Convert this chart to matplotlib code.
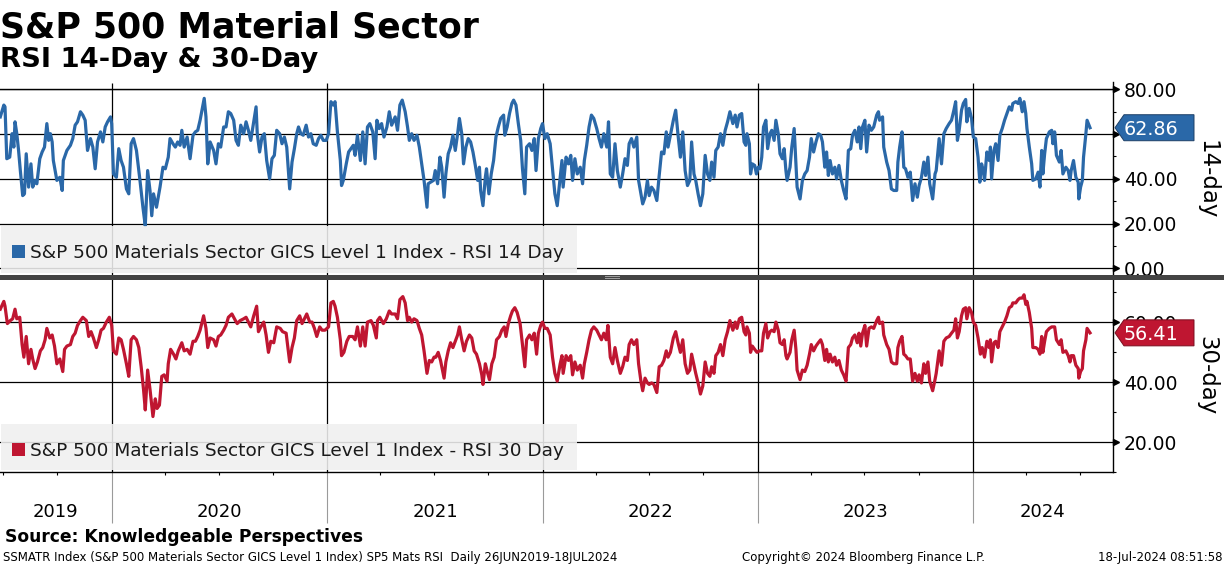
import matplotlib
matplotlib.use("Agg")
import matplotlib.pyplot as plt
import matplotlib.dates as mdates
import numpy as np
import pandas as pd
from matplotlib.patches import Polygon, Rectangle
from matplotlib.lines import Line2D
from matplotlib.ticker import FuncFormatter
from matplotlib.transforms import blended_transform_factory

# ---- data (days counted from 26 Jun 2019) ----
start = pd.Timestamp("2019-06-26")
x_right = pd.Timestamp("2024-08-26")

days14 = [0, 6, 8, 11, 16, 20, 23, 25, 28, 31, 34, 38, 41, 44, 48, 52, 55, 59, 62, 67,
          71, 75, 79, 82, 85, 88, 90, 96, 101, 105, 107, 113, 119, 123, 127, 131, 136, 140, 144, 148,
          153, 157, 161, 165, 170, 174, 178, 182, 187, 189, 192, 197, 201, 205, 209, 214, 218, 222, 226, 231,
          235, 237, 242, 246, 250, 254, 257, 260, 265, 269, 271, 276, 280, 285, 288, 293, 297, 301, 305, 308,
          312, 317, 322, 327, 331, 335, 339, 346, 349, 352, 356, 362, 366, 370, 374, 379, 383, 387, 391, 396,
          400, 404, 408, 413, 417, 421, 425, 430, 434, 436, 440, 444, 448, 452, 457, 461, 465, 469, 474, 478,
          482, 486, 491, 495, 499, 503, 506, 510, 514, 519, 523, 527, 531, 536, 540, 544, 548, 553, 557, 561,
          565, 568, 572, 577, 579, 582, 587, 591, 595, 599, 602, 606, 611, 615, 619, 623, 627, 632, 636, 639,
          643, 647, 651, 656, 660, 664, 670, 674, 678,
          682, 687, 691, 694, 698, 702, 707, 711, 715, 719, 724, 726, 730, 735, 738, 742, 746, 749, 753, 756,
          760, 764, 768, 772, 776, 779, 783, 786, 790, 794, 798, 802, 806, 810, 813, 815, 819, 823, 825, 829,
          833, 837, 841, 845, 849, 854, 856, 860, 864, 868, 871, 875, 879, 883, 886, 890, 893, 898, 902, 906,
          909, 913, 917, 920, 924, 928, 933, 937, 941, 945, 950, 953, 955, 960, 964, 968, 971, 975, 979, 984,
          988, 991, 995, 999, 1003, 1007, 1012, 1016, 1020, 1024, 1029, 1032, 1035, 1039, 1043, 1047, 1052, 1056, 1060, 1064,
          1067, 1071, 1075, 1080, 1083, 1087, 1090, 1094, 1098, 1101, 1105, 1109, 1114, 1118, 1122, 1126, 1130, 1133, 1137, 1142,
          1146, 1150, 1154, 1158, 1162, 1166, 1170, 1173, 1177, 1180, 1184, 1188, 1192, 1196, 1200, 1204, 1207, 1211, 1214, 1218,
          1222, 1226, 1230, 1234, 1238, 1243, 1247, 1250, 1254,
          1258, 1262, 1265, 1267, 1271, 1273, 1276, 1280, 1283, 1286, 1289, 1292, 1295, 1299, 1302, 1306, 1309, 1313, 1316, 1320,
          1323, 1327, 1330, 1333, 1335, 1340, 1343, 1347, 1350, 1352, 1357, 1361, 1365, 1369, 1373, 1376, 1380, 1384, 1388, 1392,
          1395, 1399, 1402, 1405, 1408, 1412, 1416, 1419, 1423, 1427, 1431, 1435, 1439, 1443, 1446, 1450, 1454, 1457, 1460, 1463,
          1467, 1470, 1474, 1478, 1482, 1487, 1490, 1492, 1497, 1499, 1504, 1508, 1512, 1516, 1521, 1523, 1526, 1530, 1533, 1536,
          1540, 1544, 1548, 1552, 1556, 1559, 1563, 1567, 1570, 1574, 1577, 1582, 1586, 1588, 1593, 1597, 1601, 1605, 1610, 1614,
          1618, 1621, 1624, 1627, 1631, 1634, 1638, 1640, 1644, 1648, 1651, 1655, 1659, 1662, 1665, 1668, 1670, 1674, 1678, 1680,
          1682, 1686, 1689, 1693, 1696, 1700, 1704, 1708, 1712, 1716, 1718, 1723, 1727, 1730, 1734, 1737, 1740, 1742, 1746, 1750,
          1752, 1757, 1761, 1764, 1767, 1769, 1772, 1775, 1780, 1784, 1786, 1789, 1792, 1797, 1800, 1803, 1808, 1812, 1815, 1817,
          1821, 1825, 1829, 1830, 1833, 1836, 1838, 1842, 1844, 1849]

rsi14 = [67.7, 73.0, 72.2, 49.0, 49.7, 60.2, 54.2, 65.5, 60.2, 52.7, 43.7, 32.5, 33.3, 51.2, 36.3, 46.7, 36.3, 39.3, 37.8, 49.0,
         52.0, 54.2, 64.7, 57.2, 60.2, 56.5, 48.2, 39.3, 40.7, 34.8, 48.2, 52.7, 55.0, 58.0, 64.0, 65.5, 70.0, 68.5, 66.2, 52.7,
         58.0, 54.2, 44.5, 56.5, 61.0, 56.5, 63.2, 65.5, 67.7, 64.7, 42.2, 40.7, 53.5, 48.2, 45.2, 35.5, 33.3, 55.7, 58.0, 52.7,
         43.7, 39.3, 27.3, 19.0, 43.7, 34.8, 23.5, 33.3, 27.3, 33.3, 36.3, 45.2, 44.5, 49.7, 58.0, 55.7, 54.2, 56.5, 55.0, 61.7,
         54.2, 58.7, 49.0, 59.5, 61.0, 61.7, 66.2, 76.0, 67.7, 46.7, 56.5, 52.7, 46.7, 55.7, 54.2, 63.2, 63.2, 70.0, 69.2, 66.2,
         57.2, 55.0, 64.0, 60.2, 65.5, 61.7, 57.2, 65.5, 72.2, 60.2, 52.0, 58.7, 60.2, 48.2, 40.0, 49.0, 50.5, 61.7, 60.2, 55.7,
         58.7, 54.2, 35.5, 47.5, 53.5, 60.2, 63.2, 60.2, 59.5, 64.0, 58.7, 60.2, 55.7, 55.0, 58.0, 59.5, 57.2, 57.2, 60.2, 74.5,
         73.0, 74.5, 61.0, 48.2, 37.0, 39.3, 46.7, 52.0, 53.5, 55.0, 50.5, 59.5, 48.2, 61.0, 46.7, 63.2, 64.7, 61.0, 49.0, 66.2,
         62.5, 64.7, 58.7, 63.2, 70.0, 64.0, 67.7, 61.7, 73.0,
         75.2, 70.0, 63.2, 57.2, 60.2, 57.2, 59.5, 54.2, 46.7, 39.3, 27.3, 37.8, 38.5, 39.3, 43.7, 37.8, 49.7, 45.2, 31.8, 42.2,
         51.2, 54.2, 59.5, 52.7, 60.2, 67.0, 60.2, 46.7, 54.2, 58.0, 56.5, 52.0, 46.0, 39.3, 45.2, 34.8, 28.0, 40.7, 44.5, 33.3,
         42.2, 48.2, 58.7, 63.2, 67.0, 68.5, 59.5, 63.2, 69.2, 73.7, 75.2, 73.0, 64.7, 57.2, 44.5, 33.3, 54.2, 55.7, 52.7, 58.0,
         43.7, 58.0, 62.5, 64.7, 58.0, 60.2, 55.7, 44.5, 33.3, 28.0, 40.7, 48.2, 36.3, 49.7, 46.7, 50.5, 39.3, 49.0, 42.2, 45.2,
         37.8, 48.2, 55.0, 63.2, 68.5, 67.0, 62.5, 58.0, 54.2, 60.2, 54.2, 65.5, 42.2, 40.7, 55.7, 43.7, 36.3, 42.2, 49.0, 46.0,
         55.7, 58.0, 54.2, 58.7, 39.3, 33.3, 28.8, 31.8, 39.3, 32.5, 36.3, 34.8, 30.3, 41.5, 52.0, 51.2, 61.0, 54.2, 59.5, 66.2,
         70.7, 59.5, 49.7, 61.0, 43.7, 37.0, 39.3, 56.5, 42.2, 39.3, 33.3, 28.0, 33.3, 50.5, 42.2, 39.3, 47.5, 40.7, 52.7, 54.2,
         60.2, 55.0, 61.7, 65.5, 70.0, 64.7, 68.5, 63.2, 68.5,
         69.2, 56.5, 55.0, 60.2, 55.7, 42.2, 46.7, 46.0, 42.2, 45.2, 44.5, 49.7, 63.2, 66.2, 53.5, 60.2, 61.7, 57.2, 66.2, 60.2,
         51.2, 49.0, 53.5, 43.7, 39.3, 45.2, 54.2, 62.5, 46.7, 36.3, 31.0, 39.3, 42.2, 43.7, 49.7, 58.0, 52.0, 56.5, 60.2, 59.5,
         56.5, 45.2, 52.0, 41.5, 48.2, 42.2, 45.2, 40.0, 46.0, 39.3, 34.8, 31.0, 52.7, 53.5, 59.5, 61.7, 56.5, 63.2, 53.5, 63.2,
         66.2, 52.0, 64.0, 61.7, 63.2, 68.5, 70.0, 66.2, 67.7, 54.2, 47.5, 43.7, 35.5, 34.8, 34.8, 47.5, 54.2, 61.0, 45.2, 44.5,
         40.7, 43.0, 30.3, 37.8, 31.8, 37.0, 40.7, 47.5, 41.5, 49.7, 37.8, 31.0, 42.2, 43.7, 58.0, 46.7, 60.2, 62.5, 64.7, 66.2,
         70.7, 74.5, 57.2, 61.7, 70.7, 73.7, 75.5, 65.5, 71.5, 67.0, 58.7, 58.0, 49.7, 38.5, 46.7, 43.7, 39.3, 52.0, 48.2, 54.2,
         40.0, 52.7, 55.7, 48.2, 59.5, 62.5, 66.2, 69.2, 72.2, 70.7, 73.7, 74.5, 73.7, 76.0, 70.0, 74.5, 69.2, 62.5, 54.2, 46.7,
         39.3, 40.0, 43.0, 36.3, 52.7, 42.2, 51.2, 58.0, 61.0, 61.7, 55.7, 61.0, 50.5, 47.5, 52.7, 42.2, 45.2, 43.7, 39.3, 43.7,
         48.2, 40.7, 38.5, 31.0, 36.3, 39.3, 49.7, 60.2, 66.2, 62.86]

days30 = [0, 6, 8, 12, 17, 21, 25, 28, 33, 37, 40, 44, 48, 52, 55, 59, 63, 68, 72, 76,
          79, 84, 88, 92, 96, 101, 106, 109, 113, 119, 123, 127, 131, 136, 140, 146, 150, 154, 158, 163,
          167, 171, 175, 180, 185, 189, 192, 197, 201, 205, 209, 214, 218, 222, 226, 231, 235, 239, 243, 246,
          250, 254, 259, 263, 266, 270, 274, 278, 283, 285, 289, 294, 298, 302, 308, 312, 317, 322, 327, 331,
          335, 339, 345, 349, 352, 356, 362, 366, 370, 374, 379, 383, 387, 393, 399, 402, 407, 413, 417, 421,
          425, 430, 435, 438, 442, 447, 451, 455, 459, 464, 469, 475, 479, 485, 491, 495, 499, 503, 508, 512,
          516, 520, 525, 529, 533, 537, 542, 546, 551, 557, 561, 565, 568, 572, 577, 579, 583, 588, 592, 598,
          602, 606, 611, 615, 619, 623, 629, 633, 638, 640, 644, 650, 655, 660, 664, 670, 674, 678,
          683, 687, 691, 694, 698, 702, 707, 711, 715, 719, 724, 728, 732, 736, 739, 743, 747, 753, 756, 760,
          764, 768, 772, 776, 779, 783, 787, 791, 796, 800, 804, 808, 813, 817, 819, 823, 827, 830, 834, 838,
          842, 847, 851, 855, 858, 862, 866, 869, 873, 877, 882, 886, 890, 893, 898, 902, 906, 910, 913, 917,
          920, 924, 928, 933, 937, 941, 945, 950, 953, 955, 960, 964, 968, 971, 975, 979, 984, 988, 991, 995,
          999, 1003, 1007, 1012, 1016, 1020, 1024, 1028, 1031, 1035, 1039, 1043, 1047, 1052, 1056, 1060, 1064, 1067, 1071, 1075,
          1080, 1083, 1087, 1090, 1094, 1098, 1101, 1105, 1109, 1114, 1118, 1122, 1126, 1130, 1133, 1137, 1142, 1146, 1150, 1154,
          1158, 1162, 1166, 1170, 1173, 1177, 1180, 1184, 1188, 1192, 1196, 1200, 1204, 1207, 1211, 1214, 1218, 1222, 1226, 1230,
          1234, 1238, 1243, 1247, 1250, 1254,
          1258, 1262, 1265, 1267, 1271, 1273, 1276, 1280, 1284, 1288, 1292, 1295, 1299, 1302, 1306, 1309, 1313, 1316, 1320, 1323,
          1327, 1330, 1333, 1335, 1340, 1343, 1347, 1350, 1352, 1357, 1361, 1365, 1369, 1373, 1376, 1380, 1384, 1388, 1392, 1395,
          1399, 1402, 1405, 1408, 1412, 1416, 1419, 1423, 1427, 1431, 1435, 1439, 1443, 1446, 1450, 1454, 1457, 1460, 1463, 1467,
          1470, 1474, 1478, 1482, 1487, 1490, 1492, 1497, 1499, 1504, 1508, 1512, 1516, 1521, 1523, 1526, 1530, 1533, 1536, 1540,
          1544, 1548, 1552, 1556, 1559, 1563, 1567, 1570, 1574, 1577, 1582, 1586, 1588, 1593, 1597, 1601, 1605, 1610, 1614, 1618,
          1621, 1624, 1627, 1631, 1634, 1638, 1640, 1644, 1648, 1651, 1655, 1659, 1663, 1666, 1670, 1674, 1678, 1680, 1682, 1686,
          1689, 1693, 1696, 1700, 1704, 1708, 1712, 1716, 1718, 1723, 1727, 1730, 1734, 1737, 1740, 1742, 1746, 1750, 1752, 1757,
          1761, 1764, 1767, 1769, 1772, 1775, 1780, 1784, 1786, 1789, 1792, 1797, 1800, 1803, 1808, 1812, 1815, 1817, 1821, 1825,
          1829, 1830, 1833, 1836, 1838, 1842, 1844, 1849]

rsi30 = [64.3, 66.9, 65.3, 59.5, 60.5, 61.1, 64.3, 61.1, 61.6, 52.5, 48.3, 55.2, 46.1, 50.9, 47.7, 44.5, 46.7, 50.4, 51.5, 54.1,
         57.9, 54.7, 55.7, 52.0, 46.1, 47.7, 43.5, 50.9, 52.0, 52.5, 55.2, 56.3, 58.9, 60.5, 61.6, 60.5, 55.2, 56.8, 54.7, 51.5,
         54.1, 57.3, 57.9, 60.0, 61.6, 58.9, 50.4, 49.3, 54.7, 54.1, 50.9, 46.1, 41.9, 54.1, 55.2, 54.1, 51.5, 45.1, 37.6, 30.7,
         44.0, 37.6, 28.5, 34.4, 31.2, 32.3, 41.9, 42.4, 40.3, 46.1, 50.9, 49.3, 47.7, 50.4, 53.1, 50.4, 50.9, 49.3, 53.6, 53.6,
         55.2, 57.3, 62.1, 57.9, 51.5, 54.7, 54.1, 52.0, 55.2, 55.7, 57.3, 58.9, 61.6, 62.7, 60.5, 59.5, 60.5, 61.1, 61.6, 60.0,
         58.4, 62.1, 65.3, 56.8, 58.4, 60.0, 55.7, 49.9, 53.6, 53.1, 58.4, 57.9, 56.8, 56.3, 46.7, 51.5, 54.7, 60.5, 62.1, 59.5,
         61.1, 62.7, 60.0, 60.0, 57.9, 55.2, 58.4, 57.3, 57.3, 58.4, 66.4, 66.9, 65.3, 61.6, 54.1, 48.8, 49.9, 53.6, 55.2, 55.2,
         54.1, 58.4, 52.0, 58.4, 52.0, 60.0, 60.5, 58.9, 54.7, 60.5, 61.6, 59.5, 61.1, 63.7, 62.7, 62.7, 61.1, 67.5,
         68.5, 66.4, 60.5, 61.6, 60.0, 61.1, 60.5, 57.9, 55.7, 50.4, 42.9, 47.2, 46.7, 48.3, 48.3, 49.9, 47.2, 41.3, 46.7, 50.4,
         53.1, 51.5, 53.6, 55.7, 58.4, 54.1, 50.4, 53.6, 55.7, 54.7, 50.4, 49.3, 46.1, 42.4, 39.2, 46.1, 42.9, 40.8, 46.1, 48.3,
         54.1, 55.2, 57.3, 58.4, 55.2, 59.5, 62.1, 63.7, 64.8, 63.2, 59.5, 52.5, 45.1, 54.1, 55.7, 54.1, 56.3, 49.3, 56.3, 58.9,
         60.0, 57.9, 57.9, 55.7, 48.3, 42.9, 40.3, 46.1, 48.8, 42.9, 48.8, 47.2, 48.8, 42.4, 46.7, 44.0, 45.6, 41.3, 46.1, 49.9,
         54.1, 57.3, 58.4, 57.3, 55.7, 54.1, 56.3, 54.1, 58.9, 48.3, 46.1, 51.5, 47.2, 42.9, 45.1, 48.3, 47.2, 52.5, 54.1, 52.5,
         54.1, 46.1, 40.3, 37.1, 41.3, 39.7, 39.2, 39.7, 39.2, 36.5, 45.1, 45.6, 47.2, 50.4, 48.3, 49.9, 54.7, 56.8, 53.1, 49.9,
         54.1, 46.1, 42.9, 44.0, 49.3, 45.6, 42.9, 39.7, 36.0, 38.7, 46.7, 42.9, 41.9, 45.1, 42.9, 48.8, 49.9, 52.5, 48.8, 54.1,
         56.8, 60.5, 57.3, 60.0, 57.9, 61.1,
         61.6, 56.8, 55.7, 58.4, 56.3, 49.9, 52.0, 50.9, 49.9, 50.4, 50.4, 56.3, 59.5, 54.7, 56.8, 57.3, 56.8, 60.0, 57.3, 53.1,
         52.5, 54.1, 48.8, 47.7, 49.9, 54.1, 57.3, 50.9, 44.0, 40.8, 44.0, 43.5, 45.6, 49.3, 52.5, 50.4, 52.0, 53.1, 54.1, 52.5,
         47.2, 50.9, 46.7, 49.3, 46.7, 48.3, 45.6, 47.2, 44.0, 42.4, 40.3, 51.5, 52.5, 54.7, 55.7, 53.1, 56.3, 52.0, 56.3, 58.9,
         52.0, 57.9, 58.4, 57.9, 60.5, 61.6, 59.5, 60.0, 55.7, 52.5, 50.9, 46.7, 46.1, 46.1, 51.5, 53.6, 55.2, 49.3, 48.8, 47.7,
         47.7, 40.3, 42.9, 40.3, 42.4, 39.7, 46.1, 42.9, 46.7, 40.3, 37.1, 40.8, 42.9, 50.4, 45.6, 53.6, 54.7, 55.2, 56.3, 57.3,
         61.1, 54.7, 56.8, 62.1, 64.3, 64.8, 61.1, 64.8, 63.2, 60.0, 58.9, 54.7, 49.3, 51.5, 48.3, 53.6, 51.5, 54.1, 46.7, 53.1,
         53.6, 51.5, 56.8, 58.4, 60.0, 62.1, 64.8, 65.3, 66.4, 66.4, 67.5, 68.0, 68.0, 69.1, 65.9, 66.9, 63.2, 57.9, 51.5, 51.5,
         50.9, 49.3, 55.2, 49.9, 53.6, 56.8, 57.9, 58.4, 58.4, 58.4, 54.1, 52.5, 54.1, 49.9, 50.4, 48.8, 46.7, 48.8, 48.8, 45.6,
         44.5, 41.3, 43.5, 44.5, 50.4, 54.1, 57.9, 56.41]

years = [2019, 2020, 2021, 2022, 2023, 2024]
ticks14 = [0, 20, 40, 60, 80]
ticks30 = [20, 40, 60]

title = "S&P 500 Material Sector"
subtitle = "RSI 14-Day & 30-Day"
label14 = "S&P 500 Materials Sector GICS Level 1 Index - RSI 14 Day"
label30 = "S&P 500 Materials Sector GICS Level 1 Index - RSI 30 Day"
source = "Source: Knowledgeable Perspectives"
foot_left = "SSMATR Index (S&P 500 Materials Sector GICS Level 1 Index) SP5 Mats RSI  Daily 26JUN2019-18JUL2024"
foot_mid = "Copyright\u00a9 2024 Bloomberg Finance L.P."
foot_right = "18-Jul-2024 08:51:58"

BLUE = "#2a68a8"
RED = "#bf1631"

W, H = 1224, 566


def fx(px):
    return px / W


def fy(py):
    # py measured from the top of the picture
    return 1 - py / H


fig = plt.figure(figsize=(W / 100, H / 100), dpi=100)
fig.patch.set_facecolor("white")

ax1 = fig.add_axes([0, fy(275), fx(1113), (275 - 88.5) / H])
ax2 = fig.add_axes([0, fy(472), fx(1113), (472 - 279.5) / H])

dates14 = (start + pd.to_timedelta(days14, unit="D")).to_pydatetime()
dates30 = (start + pd.to_timedelta(days30, unit="D")).to_pydatetime()
ax1.plot(dates14, rsi14, color=BLUE, lw=2.3, solid_joinstyle="round", zorder=3)
ax2.plot(dates30, rsi30, color=RED, lw=2.3, solid_joinstyle="round", zorder=3)

ax1.set_ylim(-3.0, 80.4)
ax2.set_ylim(12.4, 74.2)

year_starts = [pd.Timestamp(f"{y}-01-01").to_pydatetime() for y in years[1:]]
quarters = [d.to_pydatetime() for d in pd.date_range("2019-07-01", "2024-07-01", freq="QS")
            if d.month != 1]

for ax, ticks in ((ax1, ticks14), (ax2, ticks30)):
    ax.set_xlim(start - pd.Timedelta(hours=12), x_right)
    for s in ax.spines.values():
        s.set_visible(False)
    ax.yaxis.tick_right()
    ax.set_yticks(ticks)
    ax.set_yticks(np.arange(10, 80, 20), minor=True)
    ax.tick_params(axis="y", which="major", length=0, pad=8, labelsize=13.5)
    ax.tick_params(axis="y", which="minor", length=2.5, width=0.8, direction="out")
    ax.set_xticks(year_starts)
    ax.grid(True, which="major", color="black", lw=0.9)
    # arrow heads at the major ticks
    ax.plot(np.full(len(ticks), 1.003), ticks, ls="none", marker=">", ms=5, color="black",
            transform=ax.get_yaxis_transform(), clip_on=False, zorder=5)

# the 60.00 label of the upper panel sits fully under the last-value tag
ax1.yaxis.set_major_formatter(FuncFormatter(lambda v, p: "" if v == 60 else f"{v:.2f}"))
ax2.yaxis.set_major_formatter(FuncFormatter(lambda v, p: f"{v:.2f}"))

ax1.spines["top"].set_visible(True)
ax1.spines["top"].set_linewidth(1.0)
ax1.xaxis.set_ticks_position("top")
ax1.tick_params(axis="x", direction="out", length=4.5, width=0.9, labeltop=False, labelbottom=False)

ax2.spines["bottom"].set_visible(True)
ax2.spines["bottom"].set_linewidth(1.0)
ax2.xaxis.set_ticks_position("bottom")
ax2.set_xticks(quarters, minor=True)
ax2.tick_params(axis="x", which="major", direction="out", length=37, width=0.8,
                color="#9a9a9a", labelbottom=False)
ax2.tick_params(axis="x", which="minor", direction="out", length=2.5, width=0.8, color="black")

# year labels centred on the visible part of each year
lo_lim, hi_lim = ax2.get_xlim()
ytrans = blended_transform_factory(ax2.transData, fig.transFigure)
for y in years:
    lo = max(mdates.date2num(pd.Timestamp(f"{y}-01-01")), lo_lim)
    hi = min(mdates.date2num(pd.Timestamp(f"{y + 1}-01-01")), hi_lim)
    ax2.text((lo + hi) / 2, fy(512), str(y), transform=ytrans, ha="center", va="center",
             fontsize=13, clip_on=False)

# right axis line, running through both panels
fig.add_artist(Line2D([fx(1113), fx(1113)], [fy(82), fy(472)], color="black", lw=1.0))

# legend boxes
for top, bot, col, lab in ((226, 273, BLUE, label14), (424, 470, RED, label30)):
    fig.add_artist(Rectangle((fx(1), fy(bot)), fx(576), (bot - top) / H, facecolor="#f0f0f0",
                             edgecolor="none", alpha=0.88, zorder=1))
    mid = (top + bot) / 2 + 2
    fig.add_artist(Rectangle((fx(12), fy(mid + 6.5)), fx(13), 13 / H, facecolor=col,
                             edgecolor="none", zorder=2))
    fig.text(fx(30), fy(mid), lab, fontsize=13.3, color="#1a1a1a", ha="left",
             va="center_baseline", zorder=3)

# separator between the panels
fig.add_artist(Rectangle((0, fy(279.5)), 1, 4.5 / H, facecolor="#444444", edgecolor="none", zorder=6))
for yy in (276.4, 278.0):
    fig.add_artist(Line2D([fx(605), fx(619)], [fy(yy), fy(yy)], color="#a0a0a0", lw=0.7, zorder=7))


def value_tag(ax, value, color):
    x0, y0 = ax.get_yaxis_transform().transform((1.0, value))
    h = 13
    pts = [(x0 + 2, y0), (x0 + 11, y0 + h), (x0 + 81, y0 + h), (x0 + 81, y0 - h), (x0 + 11, y0 - h)]
    fig.add_artist(Polygon([(px / W, py / H) for px, py in pts], closed=True, facecolor=color,
                           edgecolor="#1d3f66" if color == BLUE else "#7a0e1f", lw=0.7, zorder=4))
    fig.text((x0 + 11) / W, y0 / H, f"{value:.2f}", color="white", fontsize=13.8,
             ha="left", va="center_baseline", zorder=5)


value_tag(ax1, rsi14[-1], BLUE)
value_tag(ax2, rsi30[-1], RED)

fig.text(fx(1207), fy(180), "14-day", rotation=270, fontsize=16.5, ha="center", va="center")
fig.text(fx(1207), fy(376), "30-day", rotation=270, fontsize=16.5, ha="center", va="center")

# titles and footer
fig.text(fx(0), fy(37), title, fontsize=25, fontweight="bold", ha="left", va="baseline")
fig.text(fx(0), fy(67), subtitle, fontsize=19.7, fontweight="bold", ha="left", va="baseline")
fig.text(fx(5), fy(537), source, fontsize=12.3, fontweight="bold", ha="left", va="center")
fig.text(fx(3), fy(557), foot_left, fontsize=8.5, ha="left", va="center")
fig.text(fx(742), fy(557), foot_mid, fontsize=8.5, ha="left", va="center")
fig.text(fx(1222), fy(557), foot_right, fontsize=8.5, ha="right", va="center")

fig.savefig("out.png", dpi=100)
